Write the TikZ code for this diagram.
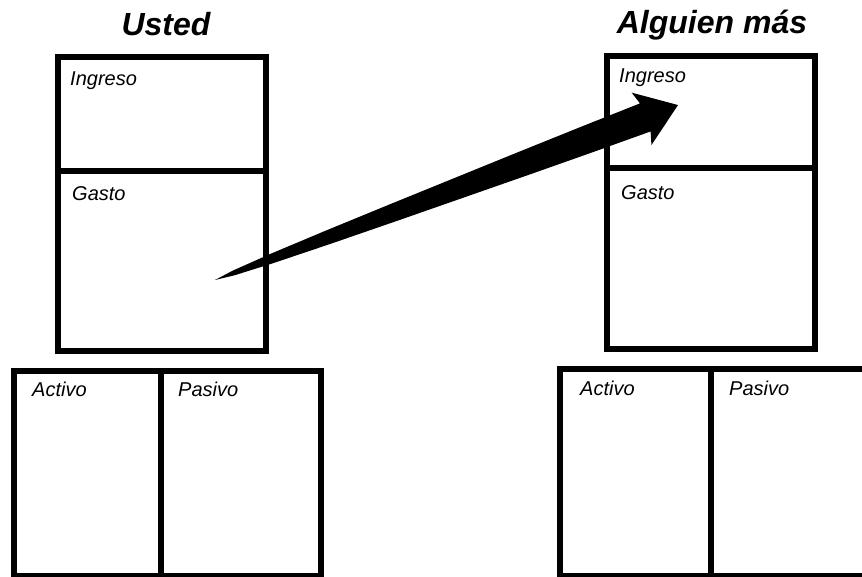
\documentclass[tikz,border=0pt]{standalone}
\usepackage{fontspec}
\setmainfont{Liberation Sans}
\begin{document}
\begin{tikzpicture}[x=1pt,y=-1pt,
  cell/.style={draw=black, line width=5.5pt, line join=miter, inner sep=0pt, outer sep=0pt, anchor=north west},
  lbl/.style={anchor=base west, inner sep=0pt, font=\fontsize{20}{22}\selectfont\itshape},
  ttl/.style={anchor=base, inner sep=0pt, font=\fontsize{32}{36}\selectfont\bfseries\itshape}]
\useasboundingbox (0,0) rectangle (862,576);
\clip (0,0) rectangle (862,576);
% titles
\node[ttl] (t1) at (166,35) {Usted};
\node[ttl] (t2) at (712,33) {Alguien más};
% left top (Usted)
\node[cell, minimum width=208pt, minimum height=114pt] (uIng) at (58,57) {};
\node[cell, minimum width=208pt, minimum height=180pt] (uGas) at (58,171) {};
% left bottom
\node[cell, minimum width=147pt, minimum height=205pt] (uAct) at (14,371) {};
\node[cell, minimum width=160pt, minimum height=205pt] (uPas) at (161,371) {};
% right top (Alguien mas)
\node[cell, minimum width=208pt, minimum height=112pt] (aIng) at (607,56) {};
\node[cell, minimum width=208pt, minimum height=181pt] (aGas) at (607,168) {};
% right bottom
\node[cell, minimum width=151pt, minimum height=207pt] (aAct) at (560,369) {};
\node[cell, minimum width=170pt, minimum height=207pt] (aPas) at (711,369) {};
% labels
\node[lbl] (l1) at (70,85) {Ingreso};
\node[lbl] (l2) at (72,200) {Gasto};
\node[lbl] (l3) at (32,396) {Activo};
\node[lbl] (l4) at (178,396) {Pasivo};
\node[lbl] (l5) at (619,82) {Ingreso};
\node[lbl] (l6) at (621,199) {Gasto};
\node[lbl] (l7) at (580,395) {Activo};
\node[lbl] (l8) at (729,395) {Pasivo};
% tapered arrow from Gasto (Usted) to Ingreso (Alguien mas)
\coordinate (tail) at (215,280);
\coordinate (tip) at (678,105);
\begin{scope}[shift={(tail)}, rotate=20.7]
\fill[black] (0,0) -- (20,2.5) -- (60,4.8) -- (120,7) -- (190,9) -- (250,10.5) -- (330,12.5) -- (400,14) -- (460,15)
  -- (456,28) -- (495,0) -- (456,-28) -- (460,-15) -- (400,-14) -- (330,-12.5) -- (250,-10.5)
  -- (190,-9) -- (120,-7) -- (60,-4.8) -- (20,-2.5) -- cycle;
\end{scope}
\end{tikzpicture}
\end{document}
